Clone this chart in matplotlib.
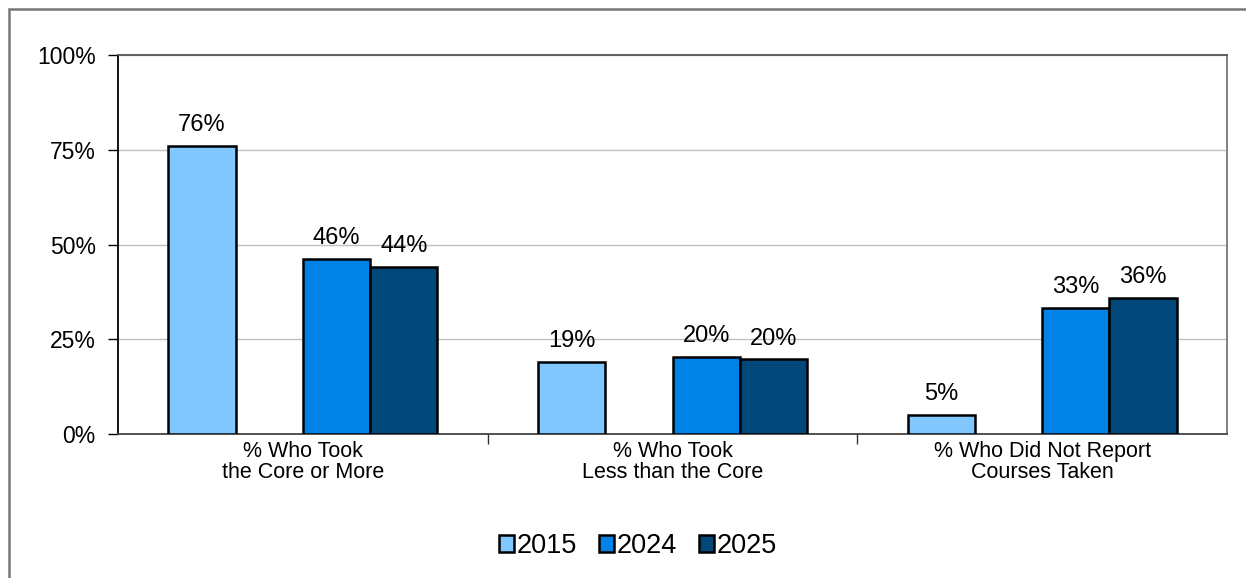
import numpy as np
import matplotlib.pyplot as plt
from matplotlib.patches import Rectangle

plt.rcParams['font.family'] = ['Liberation Sans', 'DejaVu Sans']

categories = ["% Who Took\nthe Core or More",
              "% Who Took\nLess than the Core",
              "% Who Did Not Report\nCourses Taken"]
years = ["2015", "2024", "2025"]
v2015 = [76.0, 19.0, 5.0]
v2024 = [46.3, 20.4, 33.2]
v2025 = [44.1, 19.7, 36.0]
labels2015 = ["76%", "19%", "5%"]
labels2024 = ["46%", "20%", "33%"]
labels2025 = ["44%", "20%", "36%"]
yticks = [0, 25, 50, 75, 100]
yticklabels = ["0%", "25%", "50%", "75%", "100%"]

colors = ["#80C6FF", "#0082E6", "#00477A"]

fig = plt.figure(figsize=(12.46, 5.78), dpi=100)
ax = fig.add_axes([118 / 1246, 1 - 434 / 578, 1109 / 1246, 379 / 578])

x = np.arange(len(categories))
w = 0.182
offsets = [-1.5 * w, 0.5 * w, 1.5 * w]
series = [v2015, v2024, v2025]
lab = [labels2015, labels2024, labels2025]
for vals, off, c, yr, ls in zip(series, offsets, colors, years, lab):
    bars = ax.bar(x + off, vals, w, color=c, edgecolor="black", linewidth=1.8,
                  label=yr, zorder=3)
    for b, t in zip(bars, ls):
        ax.annotate(t, (b.get_x() + b.get_width() / 2, b.get_height()),
                    xytext=(0, 7), textcoords="offset points",
                    ha="center", va="bottom", fontsize=17)

ax.set_xlim(-0.5, 2.5)
ax.set_ylim(0, 100)
ax.set_yticks(yticks)
ax.set_yticklabels(yticklabels, fontsize=16.5)
ax.tick_params(axis="y", direction="out", length=7, width=1, pad=9)
ax.yaxis.grid(True, color="#BFBFBF", linewidth=1, zorder=0)

ax.set_xticks([0.5, 1.5], minor=False)
ax.set_xticklabels(["", ""])
ax.set_xticks(x, minor=True)
ax.set_xticklabels(categories, minor=True, fontsize=15.5, linespacing=1.0)
ax.tick_params(axis="x", which="major", direction="out", length=7, width=1, color="#333333")
ax.tick_params(axis="x", which="minor", length=0, pad=5)

ax.spines["left"].set_color("black")
ax.spines["bottom"].set_color("#444444")
ax.spines["top"].set_color("#555555")
ax.spines["right"].set_color("#777777")
for s in ax.spines.values():
    s.set_linewidth(1.3)

ax.legend(loc="center", bbox_to_anchor=((638 - 118) / 1109, (434 - 546) / 379), ncol=3,
          frameon=False, fontsize=19.5, handlelength=0.55, handleheight=0.55,
          handletextpad=0.12, columnspacing=0.8, borderaxespad=0)

fig.patches.append(Rectangle((9 / 1246, -0.1), 1.2, 1 - 9 / 578 + 0.1,
                             transform=fig.transFigure, fill=False,
                             edgecolor="#777777", linewidth=1.8))

fig.savefig("out.png", dpi=100)
